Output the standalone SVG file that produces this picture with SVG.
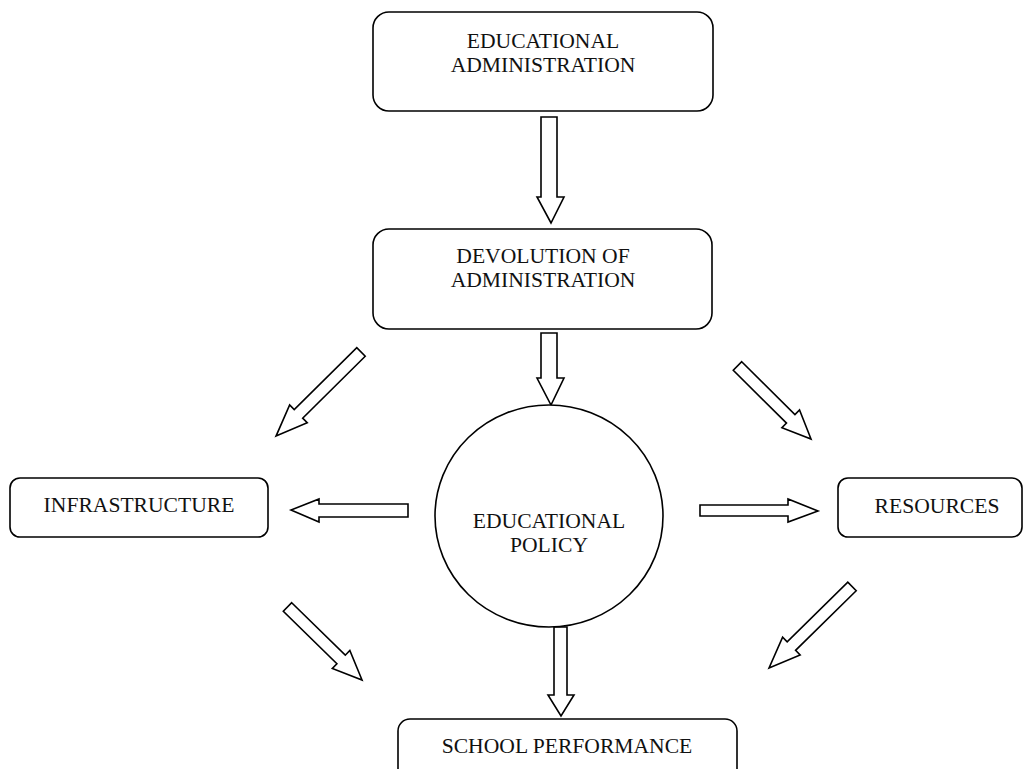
<svg xmlns="http://www.w3.org/2000/svg" width="1029" height="769" viewBox="0 0 1029 769">
<defs>
<style>
.box{fill:#fff;stroke:#000;stroke-width:1.6}
.arr{fill:#fff;stroke:#000;stroke-width:1.6;stroke-linejoin:miter}
text{font-family:"Liberation Serif","Times New Roman",serif;font-size:21.6px;fill:#111;text-anchor:middle}
</style>
</defs>
<rect width="1029" height="769" fill="#fff"/>
<g id="connectors">
<path class="arr" d="M541,117 L557,117 L557,197 L564,197 L551,223 L537,197 L541,197 Z"/>
<path class="arr" d="M541,333 L557,333 L557,378 L564,378 L551,405 L537,378 L541,378 Z"/>
<path class="arr" d="M554,627 L567,627 L567,695 L574,695 L561,716 L548,695 L554,695 Z"/>
<path class="arr" d="M408,504 L408,517 L319,517 L319,522 L291,510 L319,499 L319,504 Z"/>
<path class="arr" d="M700,505 L700,516 L788,516 L788,522 L818,511 L788,499 L788,505 Z"/>
<path class="arr" transform="translate(361,352) rotate(135.3)" d="M0,-6 L88,-6 L88,-12.5 L119.5,0 L88,12.5 L88,6 L0,6 Z"/>
<path class="arr" transform="translate(737.5,366) rotate(44.8)" d="M0,-6 L75,-6 L75,-12.5 L103.6,0 L75,12.5 L75,6 L0,6 Z"/>
<path class="arr" transform="translate(287.5,607) rotate(44.4)" d="M0,-6 L75,-6 L75,-12.5 L104.3,0 L75,12.5 L75,6 L0,6 Z"/>
<path class="arr" transform="translate(852,586.5) rotate(135.5)" d="M0,-6 L85,-6 L85,-12.5 L116.3,0 L85,12.5 L85,6 L0,6 Z"/>
</g>
<g id="educational-administration">
<rect class="box" x="373" y="12" width="340" height="99" rx="16"/>
<text x="543" y="48">EDUCATIONAL</text>
<text x="543" y="72">ADMINISTRATION</text>
</g>
<g id="devolution">
<rect class="box" x="373" y="229" width="339" height="100" rx="16"/>
<text x="543" y="263">DEVOLUTION OF</text>
<text x="543" y="287">ADMINISTRATION</text>
</g>
<g id="educational-policy">
<ellipse class="box" cx="549" cy="516" rx="114" ry="111"/>
<text x="549" y="528">EDUCATIONAL</text>
<text x="549" y="552">POLICY</text>
</g>
<g id="infrastructure">
<rect class="box" x="10" y="478" width="258" height="59" rx="10"/>
<text x="139" y="512">INFRASTRUCTURE</text>
</g>
<g id="resources">
<rect class="box" x="838" y="478" width="184" height="59" rx="10"/>
<text x="937" y="513">RESOURCES</text>
</g>
<g id="school-performance">
<rect class="box" x="398" y="719" width="339" height="90" rx="12"/>
<text x="567" y="753">SCHOOL PERFORMANCE</text>
</g>
</svg>
